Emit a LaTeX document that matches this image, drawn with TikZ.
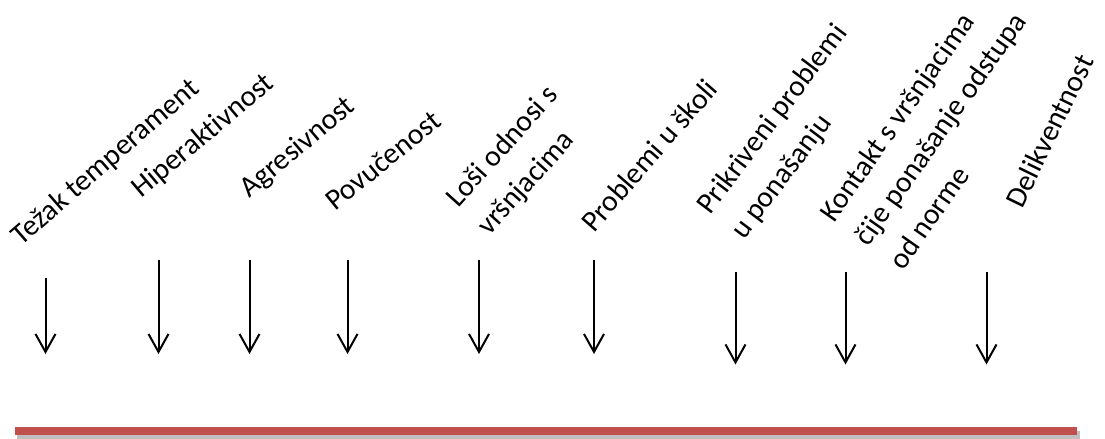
\documentclass[tikz,border=0pt]{standalone}
\usepackage{fontspec}
\setmainfont{Carlito}[Ligatures=CommonOff]
\usepackage{tikz}
\definecolor{rl}{RGB}{192, 80, 77}
\usetikzlibrary{arrows.meta}
\tikzset{lbl/.style={anchor=base west, inner sep=0pt, align=left, font=\fontsize{14.8pt}{21pt}\selectfont}}
\tikzset{arr/.style={line width=1pt, color=black, -{Straight Barb[length=9pt, width=10pt]}}}

\begin{document}
\begin{tikzpicture}[scale=0.5]
\useasboundingbox (0pt, 0pt) rectangle (1105pt, -439pt);
% labels: base west sits on the last line
\node (l1) [lbl, rotate=41] at (21.0pt, -247.0pt) {Težak temperament};
\node (l2) [lbl, rotate=40] at (141.0pt, -199.0pt) {Hiperaktivnost};
\node (l3) [lbl, rotate=40] at (249.0pt, -199.0pt) {Agresivnost};
\node (l4) [lbl, rotate=39] at (335.0pt, -212.0pt) {Povučenost};
\node (l5) [lbl, rotate=48] at (489.0pt, -237.0pt) {Loši odnosi s\\ vršnjacima};
\node (l6) [lbl, rotate=49] at (594.0pt, -234.0pt) {Problemi u školi};
\node (l7) [lbl, rotate=53] at (744.0pt, -241.0pt) {Prikriveni problemi\\ u ponašanju};
\node (l8) [lbl, rotate=55] at (903.0pt, -272.0pt) {Kontakt s vršnjacima\\ čije ponašanje odstupa\\ od norme};
\node (l9) [lbl, rotate=64] at (1022.0pt, -210.0pt) {Delikventnost};
\coordinate (s1) at (45.5pt, -278.0pt);
\coordinate (e1) at (45.5pt, -354.0pt);
\coordinate (s2) at (158.5pt, -260.0pt);
\coordinate (e2) at (158.5pt, -354.0pt);
\coordinate (s3) at (249.5pt, -260.0pt);
\coordinate (e3) at (249.5pt, -354.0pt);
\coordinate (s4) at (347.5pt, -260.0pt);
\coordinate (e4) at (347.5pt, -354.0pt);
\coordinate (s5) at (479.0pt, -260.0pt);
\coordinate (e5) at (479.0pt, -354.0pt);
\coordinate (s6) at (594.0pt, -260.0pt);
\coordinate (e6) at (594.0pt, -354.0pt);
\coordinate (s7) at (735.5pt, -272.0pt);
\coordinate (e7) at (735.5pt, -364.5pt);
\coordinate (s8) at (845.5pt, -272.0pt);
\coordinate (e8) at (845.5pt, -364.5pt);
\coordinate (s9) at (986.5pt, -272.0pt);
\coordinate (e9) at (986.5pt, -364.5pt);
\draw [arr] (s1) to (e1);
\draw [arr] (s2) to (e2);
\draw [arr] (s3) to (e3);
\draw [arr] (s4) to (e4);
\draw [arr] (s5) to (e5);
\draw [arr] (s6) to (e6);
\draw [arr] (s7) to (e7);
\draw [arr] (s8) to (e8);
\draw [arr] (s9) to (e9);
% red bar with its shadow
\fill [black, opacity=0.25] (17.0pt, -431.0pt) rectangle (1080.0pt, -439.0pt);
\fill [rl] (15.0pt, -427.0pt) rectangle (1077.0pt, -435.0pt);
\end{tikzpicture}
\end{document}
